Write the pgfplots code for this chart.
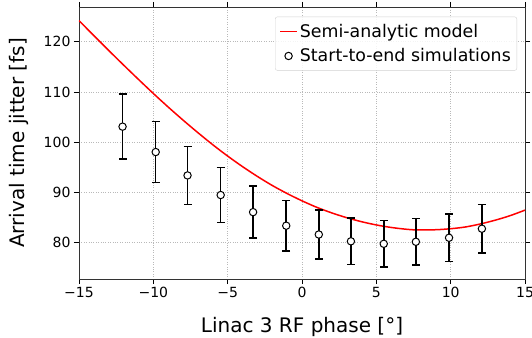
\documentclass[border=0pt]{standalone}
\usepackage{pgfplots}
\pgfplotsset{compat=1.18}
\usepackage{fontspec}
\setmainfont{DejaVu Sans}
\begin{document}
\begin{tikzpicture}
\begin{axis}[
  scale only axis, width=446pt, height=272pt,
  xmin=-15, xmax=15, ymin=72.8, ymax=126.9,
  xtick={-15,-10,-5,0,5,10,15},
  xticklabels={−15,−10,−5,0,5,10,15},
  ytick={80,90,100,110,120},
  grid=major, grid style={gray!55, dotted, line width=0.7pt},
  tick align=outside, major tick length=5pt,
  tick style={black, line width=0.8pt},
  axis line style={line width=0.8pt, black!80},
  ticklabel style={font=\fontsize{14}{16}\selectfont},
  /pgf/number format/assume math mode=true,
  xlabel={Linac 3 RF phase [°]},
  ylabel={Arrival time jitter [fs]},
  label style={font=\fontsize{20}{23}\selectfont},
  xlabel style={at={(axis description cs:0.5,-0.197)}, anchor=base},
  ylabel style={at={(axis description cs:-0.1233,0.5)}, anchor=base, rotate=0},
  legend style={at={(1,1)}, anchor=north east, xshift=-8pt, yshift=-9.7pt,
    font=\fontsize{17.4}{21}\selectfont, draw=gray!35, rounded corners=2pt,
    fill=white, fill opacity=0.85, text opacity=1, inner xsep=4pt, inner ysep=5pt,
    row sep=6pt, cells={anchor=west}},
  legend cell align=left,
]
\addplot[red, line width=1.5pt, smooth]
  coordinates {
  (-15,124.2) (-14,121.2) (-13,118.25) (-12,115.35) (-11,112.5) (-10,109.7)
  (-9,107.0) (-8,104.4) (-7,101.9) (-6,99.5) (-5,97.25) (-4,95.15)
  (-3,93.2) (-2,91.4) (-1,89.8) (0,88.35) (1,87.05) (2,85.95) (3,85.0)
  (4,84.2) (5,83.55) (6,83.05) (7,82.7) (7.8,82.55) (9,82.6) (10,82.8)
  (11,83.15) (12,83.75) (13,84.5) (14,85.4) (15,86.5)
  };
\addlegendentry{Semi-analytic model}
\addplot[only marks, mark=*, mark size=3.7pt,
  mark options={fill=white, draw=black, line width=1pt},
  error bars/.cd, y dir=both, y explicit,
  error bar style={line width=1.5pt, black},
  error mark options={rotate=90, mark size=4pt, line width=1.5pt, black},
  ]
  coordinates {
  (-12.07,103.1) +- (0,6.45)
  (-9.84,98.05) +- (0,6.1)
  (-7.7,93.4) +- (0,5.75)
  (-5.47,89.5) +- (0,5.5)
  (-3.29,86.1) +- (0,5.15)
  (-1.06,83.4) +- (0,5.0)
  (1.13,81.65) +- (0,4.85)
  (3.29,80.3) +- (0,4.65)
  (5.5,79.8) +- (0,4.6)
  (7.66,80.2) +- (0,4.6)
  (9.89,81.0) +- (0,4.7)
  (12.1,82.8) +- (0,4.85)
  };
\addlegendentry{Start-to-end simulations}
\end{axis}
\pgfresetboundingbox
\path[use as bounding box] ([shift={(-79pt,-58pt)}]current axis.south west) rectangle ++(532pt,337pt);
\end{tikzpicture}
\end{document}
